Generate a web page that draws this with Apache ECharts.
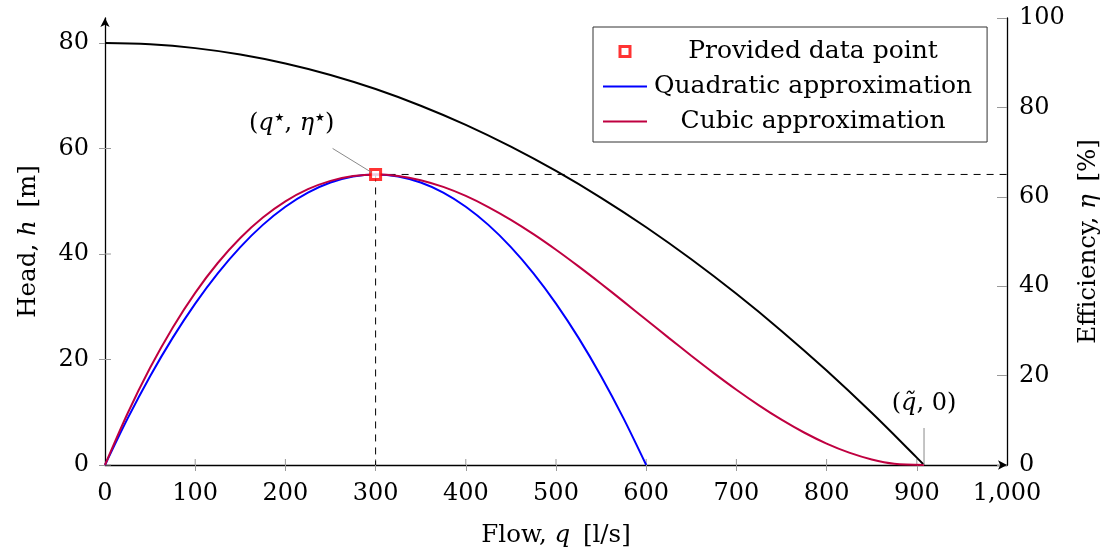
<!DOCTYPE html>
<html>
<head>
<meta charset="utf-8">
<script src="https://cdn.jsdelivr.net/npm/echarts@6/dist/echarts.min.js"></script>
<style>
html,body{margin:0;padding:0;background:#fff;}
#c{width:1119px;height:558px;}
</style>
</head>
<body>
<div id="c"></div>
<script>
// ---- data ----
const Q_HEAD = [0,50,100,150,200,250,300,350,400,450,500,550,600,650,700,750,800,850,900,908];
const HEAD   = [80,79.76,79.03,77.82,76.12,73.94,71.27,68.11,64.48,60.35,55.74,50.65,45.07,39.00,32.45,25.42,17.90,9.89,1.40,0];

const Q_QUAD   = [0,25,50,75,100,125,150,175,200,225,250,275,300,325,350,375,400,425,450,475,500,525,550,575,600];
const ETA_QUAD = [0,10.38,19.86,28.44,36.11,42.88,48.75,53.72,57.78,60.94,63.19,64.55,65,64.55,63.19,60.94,57.78,53.72,48.75,42.88,36.11,28.44,19.86,10.38,0];

const Q_CUBIC   = [0,25,50,75,100,125,150,175,200,225,250,275,300,325,350,375,400,425,450,475,500,525,550,575,600,625,650,675,700,725,750,775,800,825,850,875,908];
const ETA_CUBIC = [0,11.52,21.74,30.72,38.52,45.19,50.78,55.36,58.98,61.70,63.57,64.65,65,64.67,63.72,62.21,60.19,57.71,54.84,51.64,48.15,44.43,40.55,36.55,32.5,28.44,24.44,20.56,16.84,13.35,10.14,7.27,4.79,2.77,1.25,0.3,0];

const STAR_Q = 300, STAR_ETA = 65;   // provided data point
const Q_TILDE = 908;                 // shut-off flow

const X_LABELS = [0,100,200,300,400,500,600,700,800,900,1000];
const X_TICKS  = [100,200,300,400,500,600,700,800,900];
const H_TICKS  = [0,20,40,60,80];
const ETA_TICKS = [0,20,40,60,80,100];

const NAMES = ['Provided data point','Quadratic approximation','Cubic approximation'];

// ---- chart ----
const FONT = 'DejaVu Serif';
const FS_TICK = 24, FS_NAME = 24.5, FS_LEG = 25, FS_ANN = 24;
const TICK_COLOR = '#9a9a9a';
const H_MAX = 84.74;
const zip = (a,b) => a.map((v,i)=>[v,b[i]]);

const chart = echarts.init(document.getElementById('c'), null, {renderer:'canvas'});

const ital = fs => ({fontFamily:FONT, fontSize:fs, fontStyle:'italic', color:'#000'});
const nameStyle = {fontFamily:FONT, fontSize:FS_NAME, color:'#000', rich:{i:ital(FS_NAME)}};
const labelStyle = {color:'#000', fontFamily:FONT, fontSize:FS_TICK};
const tickLine = {color:TICK_COLOR, width:1};

const option = {
  animation:false,
  backgroundColor:'#fff',
  grid:{left:105, right:112, top:18, bottom:93, containLabel:false, outerBoundsMode:'none'},
  legend:{
    left:593, top:27, orient:'vertical',
    data:[
      {name:NAMES[0], icon:'path://M0,0L10,0L10,10L0,10Z',
       itemStyle:{color:'#ffffff', borderColor:'#ff0000', borderWidth:3}},
      {name:NAMES[1], icon:'path://M0,0L44,0L44,2L0,2Z'},
      {name:NAMES[2], icon:'path://M0,0L44,0L44,2L0,2Z'}
    ],
    itemWidth:44, itemHeight:10, itemGap:10,
    padding:[12,15,8,10],
    borderColor:'#333', borderWidth:1, backgroundColor:'#fff',
    selectedMode:false,
    formatter: n => '{a|' + n + '}',
    textStyle:{fontFamily:FONT, fontSize:FS_LEG, color:'#000',
      rich:{a:{width:322, align:'center', fontFamily:FONT, fontSize:FS_LEG, color:'#000'}}}
  },
  xAxis:[
    {type:'value', min:0, max:1000, interval:100,
     name:'Flow, {i|q}\u2009 [l/s]', nameLocation:'middle', nameGap:58, nameTextStyle:nameStyle,
     axisLine:{show:true, symbol:['none','arrow'], symbolSize:[7,9], lineStyle:{color:'#000', width:1.3}},
     axisTick:{show:true, length:6, customValues:X_TICKS, lineStyle:tickLine},
     axisLabel:{customValues:X_LABELS, margin:17, ...labelStyle},
     splitLine:{show:false}}
  ],
  yAxis:[
    {type:'value', position:'left', min:0, max:H_MAX, interval:20,
     name:'Head, {i|h}\u2009 [m]', nameLocation:'middle', nameGap:64, nameRotate:90, nameTextStyle:nameStyle,
     axisLine:{show:true, symbol:['none','arrow'], symbolSize:[7,9], lineStyle:{color:'#000', width:1.3}},
     axisTick:{show:true, length:6, customValues:H_TICKS, lineStyle:tickLine},
     axisLabel:{customValues:H_TICKS, margin:16, ...labelStyle},
     splitLine:{show:false}},
    {type:'value', position:'right', min:0, max:100, interval:20,
     name:'Efficiency, {i|η}\u2009 [%]', nameLocation:'middle', nameGap:69, nameRotate:90, nameTextStyle:nameStyle,
     axisLine:{show:true, lineStyle:{color:'#000', width:1.3}},
     axisTick:{show:true, inside:true, length:10, customValues:ETA_TICKS, lineStyle:tickLine},
     axisLabel:{customValues:ETA_TICKS, margin:12, ...labelStyle},
     splitLine:{show:false}}
  ],
  series:[
    {name:'Head', type:'line', xAxisIndex:0, yAxisIndex:0, data:zip(Q_HEAD, HEAD),
     smooth:0.4, showSymbol:false, symbol:'none', lineStyle:{color:'#000', width:2}, itemStyle:{color:'#000'}, z:3},
    {name:'dashH', type:'line', xAxisIndex:0, yAxisIndex:1,
     data:[[STAR_Q, STAR_ETA],[1000, STAR_ETA]], showSymbol:false, symbol:'none',
     lineStyle:{color:'#000', width:1, type:[7,6]}, z:2, silent:true},
    {name:'dashV', type:'line', xAxisIndex:0, yAxisIndex:1,
     data:[[STAR_Q, STAR_ETA],[STAR_Q, 0]], showSymbol:false, symbol:'none',
     lineStyle:{color:'#000', width:1, type:[7,6]}, z:2, silent:true},
    {name:NAMES[1], type:'line', xAxisIndex:0, yAxisIndex:1, data:zip(Q_QUAD, ETA_QUAD),
     smooth:0.3, showSymbol:false, symbol:'none', lineStyle:{color:'#0000ff', width:2}, itemStyle:{color:'#0000ff'}, z:4},
    {name:NAMES[2], type:'line', xAxisIndex:0, yAxisIndex:1, data:zip(Q_CUBIC, ETA_CUBIC),
     smooth:0.3, showSymbol:false, symbol:'none', lineStyle:{color:'#bf0040', width:2}, itemStyle:{color:'#bf0040'}, z:5},
    {name:NAMES[0], type:'scatter', xAxisIndex:0, yAxisIndex:1, data:[[STAR_Q, STAR_ETA]],
     symbol:'rect', symbolSize:10,
     itemStyle:{color:'#ffffff', borderColor:'#ff0000', borderWidth:3}, z:10}
  ]
};
chart.setOption(option);

// inner halves of the crossing tick marks (positions from the axes' own scales)
const g = [];
X_TICKS.forEach(v => {
  const p = chart.convertToPixel({xAxisIndex:0, yAxisIndex:0}, [v, 0]);
  g.push({type:'line', shape:{x1:p[0], y1:p[1]-6, x2:p[0], y2:p[1]}, style:{stroke:TICK_COLOR, lineWidth:1}, z:1});
});
H_TICKS.forEach(v => {
  const p = chart.convertToPixel({xAxisIndex:0, yAxisIndex:0}, [0, v]);
  g.push({type:'line', shape:{x1:p[0], y1:p[1], x2:p[0]+6, y2:p[1]}, style:{stroke:TICK_COLOR, lineWidth:1}, z:1});
});

// annotation pins, anchored on the data coordinates
const pStar = chart.convertToPixel({xAxisIndex:0, yAxisIndex:1}, [STAR_Q, STAR_ETA]);
const pTil  = chart.convertToPixel({xAxisIndex:0, yAxisIndex:1}, [Q_TILDE, 0]);
const sup = {fontFamily:'DejaVu Sans', fontSize:11, verticalAlign:'top', color:'#000', padding:[1,0,0,1]};
g.push(
  {type:'line', shape:{x1:pStar[0]-43, y1:pStar[1]-26, x2:pStar[0]-4, y2:pStar[1]-2},
   style:{stroke:'#8a8a8a', lineWidth:1}, z:20},
  {type:'text', x:pStar[0]-84, y:pStar[1]-51,
   style:{text:'({i|q}{s|\u2605}, {i|η}{s|\u2605})', fontFamily:FONT, fontSize:FS_ANN, fill:'#000',
     align:'center', verticalAlign:'middle', rich:{i:ital(FS_ANN), s:sup}}, z:20},
  {type:'line', shape:{x1:pTil[0], y1:pTil[1]-37, x2:pTil[0], y2:pTil[1]},
   style:{stroke:'#8a8a8a', lineWidth:1}, z:20},
  {type:'text', x:pTil[0], y:pTil[1]-61,
   style:{text:'({i|q\u0303}, 0)', fontFamily:FONT, fontSize:FS_ANN, fill:'#000',
     align:'center', verticalAlign:'middle', rich:{i:ital(FS_ANN)}}, z:20}
);
chart.setOption({graphic:g});
</script>
</body>
</html>
